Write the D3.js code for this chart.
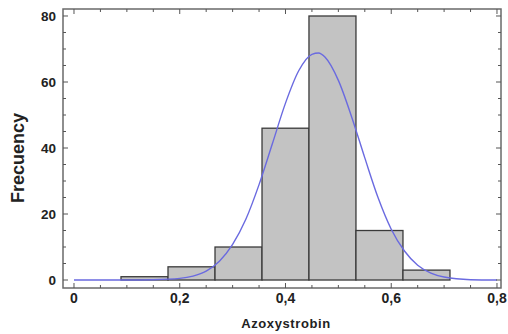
<!DOCTYPE html>
<html>
<head>
<meta charset="utf-8">
<script src="https://cdn.jsdelivr.net/npm/d3@7"></script>
<style>
body{margin:0;background:#fff;}
text{font-family:Arial,"Liberation Sans",sans-serif;font-weight:bold;fill:#222;}
</style>
</head>
<body>
<script>
// histogram bins (lower edge, upper edge) and counts
const binStart = [0.0889,0.1778,0.2667,0.3556,0.4444,0.5333,0.6222];
const binEnd   = [0.1778,0.2667,0.3556,0.4444,0.5333,0.6222,0.7111];
const counts   = [1,4,10,46,80,15,3];

// fitted curve, points
const curveX = [0,0.05,0.1,0.15,0.2,0.225,0.25,0.275,0.3,0.325,0.35,0.375,0.4,0.425,0.45,0.4625,0.475,0.5,0.525,0.55,0.575,0.6,0.625,0.65,0.675,0.7,0.75,0.8];
const curveY = [0,0,0,0.1,0.5,1.2,2.7,5.7,10.8,18.4,28.9,41.2,53.6,63.4,68.4,68.8,67.5,60.5,49.5,37,25,15.4,8.8,4.5,2.1,0.9,0.1,0];

const xTickLabels = ["0","0,2","0,4","0,6","0,8"];
const yTickLabels = ["0","20","40","60","80"];

const svg = d3.select('body').append('svg').attr('width',508).attr('height',334);

const pLeft = 63, pTop = 9, pRight = 501, pBottom = 288;
const x = d3.scaleLinear().domain([-0.0208,0.8076]).range([pLeft,pRight]);
const y = d3.scaleLinear().domain([-2.42,82.12]).range([pBottom,pTop]);

// bars
svg.append('g').selectAll('rect').data(counts).join('rect')
   .attr('x',(d,i)=>x(binStart[i]))
   .attr('width',(d,i)=>x(binEnd[i])-x(binStart[i]))
   .attr('y',d=>y(d))
   .attr('height',d=>y(0)-y(d))
   .style('fill','#c3c3c3').style('stroke','#3a3a3a').style('stroke-width',1.3);

// curve
const line = d3.line().x(d=>x(d[0])).y(d=>y(d[1])).curve(d3.curveMonotoneX);
svg.append('path').datum(curveX.map((v,i)=>[v,curveY[i]]))
   .attr('d',line).style('fill','none').style('stroke','#6a6ae0').style('stroke-width',1.4);

// frame with inward ticks on all four sides
const frame = svg.append('g');
frame.append('rect').attr('x',pLeft).attr('y',pTop).attr('width',pRight-pLeft).attr('height',pBottom-pTop)
     .style('fill','none').style('stroke','#6a6a6a').style('stroke-width',1.5);

const xt = d3.range(0,0.8001,0.05);
const yt = d3.range(0,80.001,5);
const isMajX = v=>Math.abs(v/0.2-Math.round(v/0.2))<1e-6;
const isMajY = v=>Math.round(v)%20===0;
frame.selectAll('.xb').data(xt).join('line')
     .attr('x1',d=>x(d)).attr('x2',d=>x(d))
     .attr('y1',pBottom).attr('y2',d=>pBottom-(isMajX(d)?5:3));
frame.selectAll('.xtop').data(xt).join('line')
     .attr('x1',d=>x(d)).attr('x2',d=>x(d))
     .attr('y1',pTop).attr('y2',d=>pTop+(isMajX(d)?5:3));
frame.selectAll('.yl').data(yt).join('line')
     .attr('y1',d=>y(d)).attr('y2',d=>y(d))
     .attr('x1',pLeft).attr('x2',d=>pLeft+(isMajY(d)?5:3));
frame.selectAll('.yr').data(yt).join('line')
     .attr('y1',d=>y(d)).attr('y2',d=>y(d))
     .attr('x1',pRight).attr('x2',d=>pRight-(isMajY(d)?5:3));
frame.selectAll('line').style('stroke','#555').style('stroke-width',1);

// tick labels
svg.append('g').selectAll('text').data(xTickLabels).join('text')
   .attr('x',(d,i)=>x(i*0.2)).attr('y',303)
   .attr('text-anchor','middle').style('font-size','14px').text(d=>d);
svg.append('g').selectAll('text').data(yTickLabels).join('text')
   .attr('x',56).attr('y',(d,i)=>y(i*20)+5)
   .attr('text-anchor','end').style('font-size','13.5px').text(d=>d);

// axis titles
svg.append('text').attr('x',286).attr('y',328).attr('text-anchor','middle')
   .style('font-size','13px').style('letter-spacing','0.6px').text('Azoxystrobin');
svg.append('text').attr('transform','translate(24,158) rotate(-90)').attr('text-anchor','middle')
   .style('font-size','18px').text('Frecuency');
</script>
</body>
</html>
